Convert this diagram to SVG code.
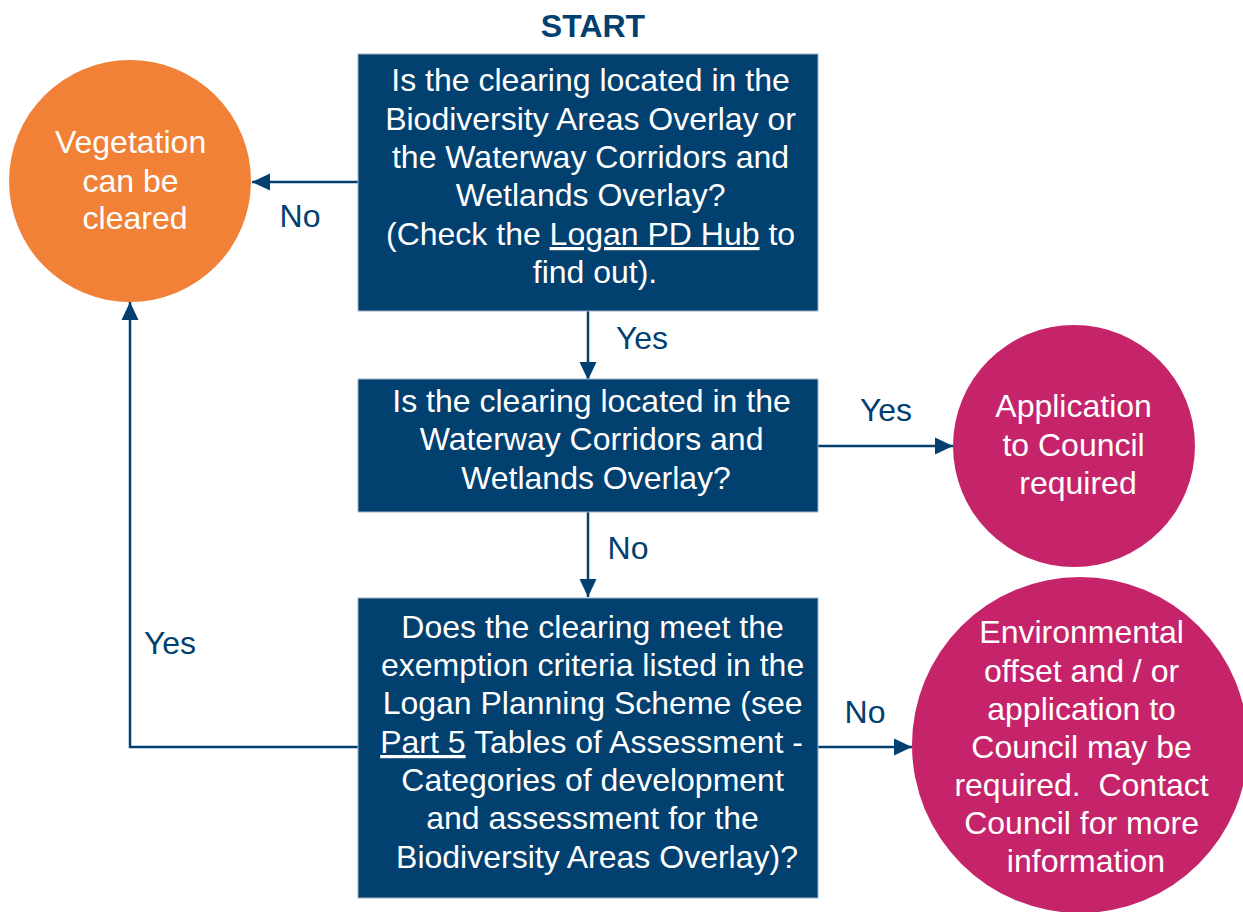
<svg xmlns="http://www.w3.org/2000/svg" width="1243" height="912" viewBox="0 0 1243 912">
<defs>
<marker id="ah" markerUnits="userSpaceOnUse" markerWidth="20" markerHeight="20" viewBox="0 0 20 20" refX="18" refY="10" orient="auto">
<path d="M0,1.5 L18,10 L0,18.5 Z" fill="#02406F"/>
</marker>
<style>
text{font-family:"Liberation Sans",Arial,sans-serif;font-size:32px;text-anchor:middle}
.w{fill:#ffffff}
.n{fill:#02406F}
.box{fill:#02406F;stroke:#9fb3c8;stroke-width:1}
.con{fill:none;stroke:#02406F;stroke-width:2.5;marker-end:url(#ah)}
.u{text-decoration:underline}
</style>
</defs>
<rect width="1243" height="912" fill="#ffffff"/>
<g id="start">
<text class="n" x="593" y="37" font-weight="bold">START</text>
</g>
<g id="connectors">
<path class="con" d="M358,182 H252"/>
<path class="con" d="M588,311 V380"/>
<path class="con" d="M818,446 H953"/>
<path class="con" d="M588,512 V597"/>
<path class="con" d="M358,747 H130 V302"/>
<path class="con" d="M818,747 H912"/>
<text class="n" x="300" y="227">No</text>
<text class="n" x="642" y="349">Yes</text>
<text class="n" x="886" y="421">Yes</text>
<text class="n" x="628" y="559">No</text>
<text class="n" x="170" y="654">Yes</text>
<text class="n" x="865" y="723">No</text>
</g>
<g id="q1">
<rect class="box" x="358" y="54" width="460" height="257"/>
<text class="w">
<tspan x="595" y="91">Is the clearing located in the</tspan>
<tspan x="595" y="130">Biodiversity Areas Overlay or</tspan>
<tspan x="595" y="168">the Waterway Corridors and</tspan>
<tspan x="595" y="206">Wetlands Overlay?</tspan>
<tspan x="595" y="245">(Check the <tspan class="u">Logan PD Hub</tspan> to</tspan>
<tspan x="595" y="283">find out).</tspan>
</text>
</g>
<g id="q2">
<rect class="box" x="358" y="379" width="460" height="133"/>
<text class="w">
<tspan x="596" y="412">Is the clearing located in the</tspan>
<tspan x="596" y="450">Waterway Corridors and</tspan>
<tspan x="596" y="489">Wetlands Overlay?</tspan>
</text>
</g>
<g id="q3">
<rect class="box" x="358" y="598" width="460" height="300"/>
<text class="w">
<tspan x="597" y="638">Does the clearing meet the</tspan>
<tspan x="597" y="676">exemption criteria listed in the</tspan>
<tspan x="597" y="714">Logan Planning Scheme (see</tspan>
<tspan x="596" y="753"><tspan class="u">Part 5</tspan> Tables of Assessment -</tspan>
<tspan x="597" y="791">Categories of development</tspan>
<tspan x="597" y="829">and assessment for the</tspan>
<tspan x="597" y="868">Biodiversity Areas Overlay)?</tspan>
</text>
</g>
<g id="cleared">
<circle cx="130" cy="181" r="121" fill="#F08137"/>
<text class="w">
<tspan x="135" y="153">Vegetation</tspan>
<tspan x="135" y="192">can be</tspan>
<tspan x="135" y="229">cleared</tspan>
</text>
</g>
<g id="application">
<circle cx="1074" cy="446" r="121" fill="#C5246A"/>
<text class="w">
<tspan x="1078" y="417">Application</tspan>
<tspan x="1078" y="456">to Council</tspan>
<tspan x="1078" y="494">required</tspan>
</text>
</g>
<g id="offset">
<circle cx="1080" cy="745" r="168" fill="#C5246A"/>
<text class="w">
<tspan x="1086" y="643">Environmental</tspan>
<tspan x="1086" y="682">offset and / or</tspan>
<tspan x="1086" y="720">application to</tspan>
<tspan x="1086" y="758">Council may be</tspan>
<tspan x="1086" y="796">required.&#160; Contact</tspan>
<tspan x="1086" y="834">Council for more</tspan>
<tspan x="1086" y="872">information</tspan>
</text>
</g>
</svg>
